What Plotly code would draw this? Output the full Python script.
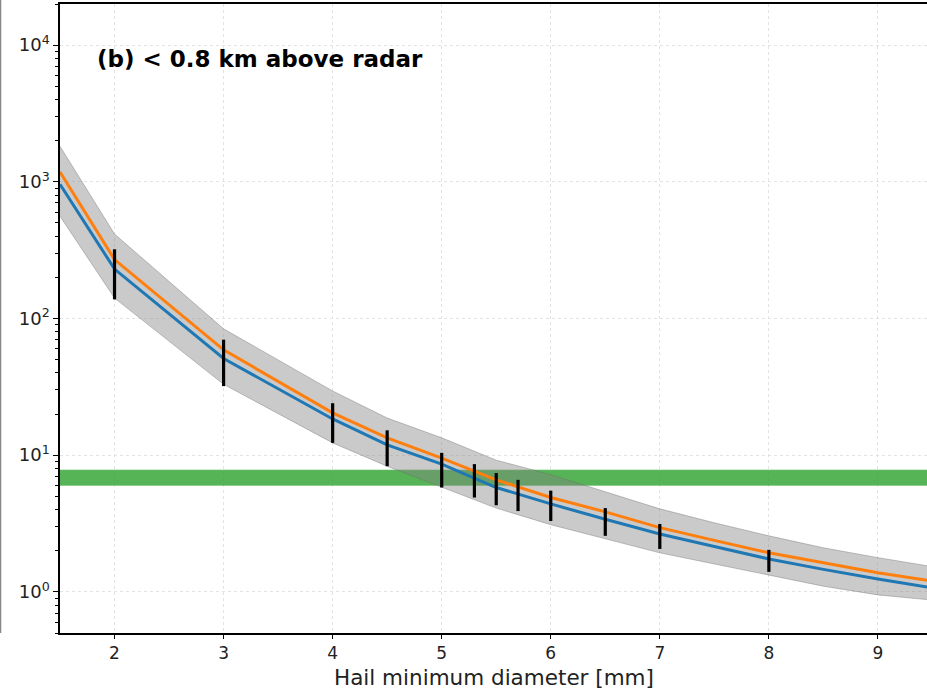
import plotly.graph_objects as go
import math

# ---- data ----
diam = [1.5, 2, 3, 4, 4.5, 5, 5.5, 6, 6.5, 7, 7.5, 8, 8.5, 9, 9.5]
blue_vals = [960, 230, 51, 18.4, 11.9, 8.6, 5.8, 4.4, 3.4, 2.65, 2.15, 1.74, 1.46, 1.24, 1.07]
orange_vals = [1180, 270, 59, 20.4, 13.4, 9.5, 6.6, 4.9, 3.85, 2.95, 2.38, 1.93, 1.63, 1.38, 1.2]
band_upper = [1820, 415, 84, 29.5, 18.7, 13.4, 9.2, 7.2, 5.4, 4.05, 3.2, 2.57, 2.1, 1.78, 1.53]
band_lower = [560, 141, 33, 12.3, 8.3, 5.8, 4.1, 3.1, 2.45, 1.93, 1.6, 1.33, 1.1, 0.95, 0.87]

err_x = [2, 3, 4, 4.5, 5, 5.3, 5.5, 5.7, 6, 6.5, 7, 8]
err_lo = [138, 32, 12.3, 8.3, 5.8, 4.9, 4.3, 3.9, 3.3, 2.57, 2.06, 1.4]
err_hi = [321, 70, 24, 15.2, 10.4, 8.6, 7.4, 6.6, 5.5, 4.1, 3.14, 2.03]

green_lo = 6.0
green_hi = 7.8
green_x = [1.5, 9.5]

x_ticks = [2, 3, 4, 5, 6, 7, 8, 9]
y_ticks = [1, 10, 100, 1000, 10000]
y_ticktext = ["10<sup>0</sup>", "10<sup>1</sup>", "10<sup>2</sup>", "10<sup>3</sup>", "10<sup>4</sup>"]
minor_vals = [m * 10 ** e for e in range(-1, 5) for m in range(2, 10)]

title_text = "<b>(b) &lt; 0.8 km above radar</b>"
x_title = "Hail minimum diameter [mm]"

fig = go.Figure()

# green horizontal band
fig.add_trace(go.Scatter(x=green_x, y=[green_lo] * len(green_x), mode="lines",
                         line=dict(color="rgba(120,200,120,0.6)", width=1), showlegend=False, hoverinfo="skip"))
fig.add_trace(go.Scatter(x=green_x, y=[green_hi] * len(green_x), mode="lines", fill="tonexty",
                         fillcolor="rgba(44,160,44,0.8)",
                         line=dict(color="rgba(120,200,120,0.6)", width=1), showlegend=False, hoverinfo="skip"))

# gray uncertainty band
fig.add_trace(go.Scatter(x=diam, y=band_lower, mode="lines",
                         line=dict(color="rgba(110,110,110,0.4)", width=1), showlegend=False, hoverinfo="skip"))
fig.add_trace(go.Scatter(x=diam, y=band_upper, mode="lines", fill="tonexty",
                         fillcolor="rgba(128,128,128,0.42)",
                         line=dict(color="rgba(110,110,110,0.4)", width=1), showlegend=False, hoverinfo="skip"))

# curves
fig.add_trace(go.Scatter(x=diam, y=orange_vals, mode="lines",
                         line=dict(color="#ff7f0e", width=3), showlegend=False))
fig.add_trace(go.Scatter(x=diam, y=blue_vals, mode="lines",
                         line=dict(color="#1f77b4", width=3), showlegend=False))

# error bars
ex, ey = [], []
for xv, lo, hi in zip(err_x, err_lo, err_hi):
    ex += [xv, xv, None]
    ey += [lo, hi, None]
fig.add_trace(go.Scatter(x=ex, y=ey, mode="lines", line=dict(color="black", width=3.2),
                         showlegend=False, hoverinfo="skip"))

fig.update_xaxes(
    range=[1.5, 9.45], tickvals=x_ticks, ticks="outside", ticklen=4, tickwidth=1.2,
    tickcolor="black", showline=True, linecolor="black", linewidth=1.5, mirror=True,
    showgrid=True, gridcolor="#e3e3e3", griddash="dot", gridwidth=1, zeroline=False,
    tickfont=dict(family="DejaVu Sans", size=17, color="#222"),
)
fig.update_yaxes(
    type="log", range=[math.log10(0.5), math.log10(20000)],
    tickvals=y_ticks, ticktext=y_ticktext, ticks="outside", ticklen=5, tickwidth=1.2,
    tickcolor="black", showline=True, linecolor="black", linewidth=1.5,
    showgrid=True, gridcolor="#e3e3e3", griddash="dot", gridwidth=1, zeroline=False,
    tickfont=dict(family="DejaVu Sans", size=18, color="#222"),
    minor=dict(tickvals=minor_vals, ticks="outside", ticklen=3, tickwidth=1, tickcolor="black", showgrid=False),
)

fig.add_annotation(text=title_text, xref="paper", yref="paper", x=0.0404, y=0.9126,
                   xanchor="left", yanchor="middle", showarrow=False,
                   font=dict(family="DejaVu Sans", size=23, color="black"))

# x-axis label
fig.add_annotation(text=x_title, xref="paper", yref="paper", x=0.5, y=-(677 - 633) / 629,
                   xanchor="center", yanchor="middle", showarrow=False,
                   font=dict(family="DejaVu Sans", size=21.5, color="#222"))

# neighbouring panel edge at far left
fig.add_shape(type="line", xref="paper", yref="paper", x0=-0.0686, x1=-0.0686, y0=0, y1=1.01,
              line=dict(color="#888888", width=1.5))

fig.update_layout(
    width=927, height=689, margin=dict(l=60, r=0, t=4, b=56),
    paper_bgcolor="white", plot_bgcolor="white", showlegend=False,
)

fig.write_html("out.html")
